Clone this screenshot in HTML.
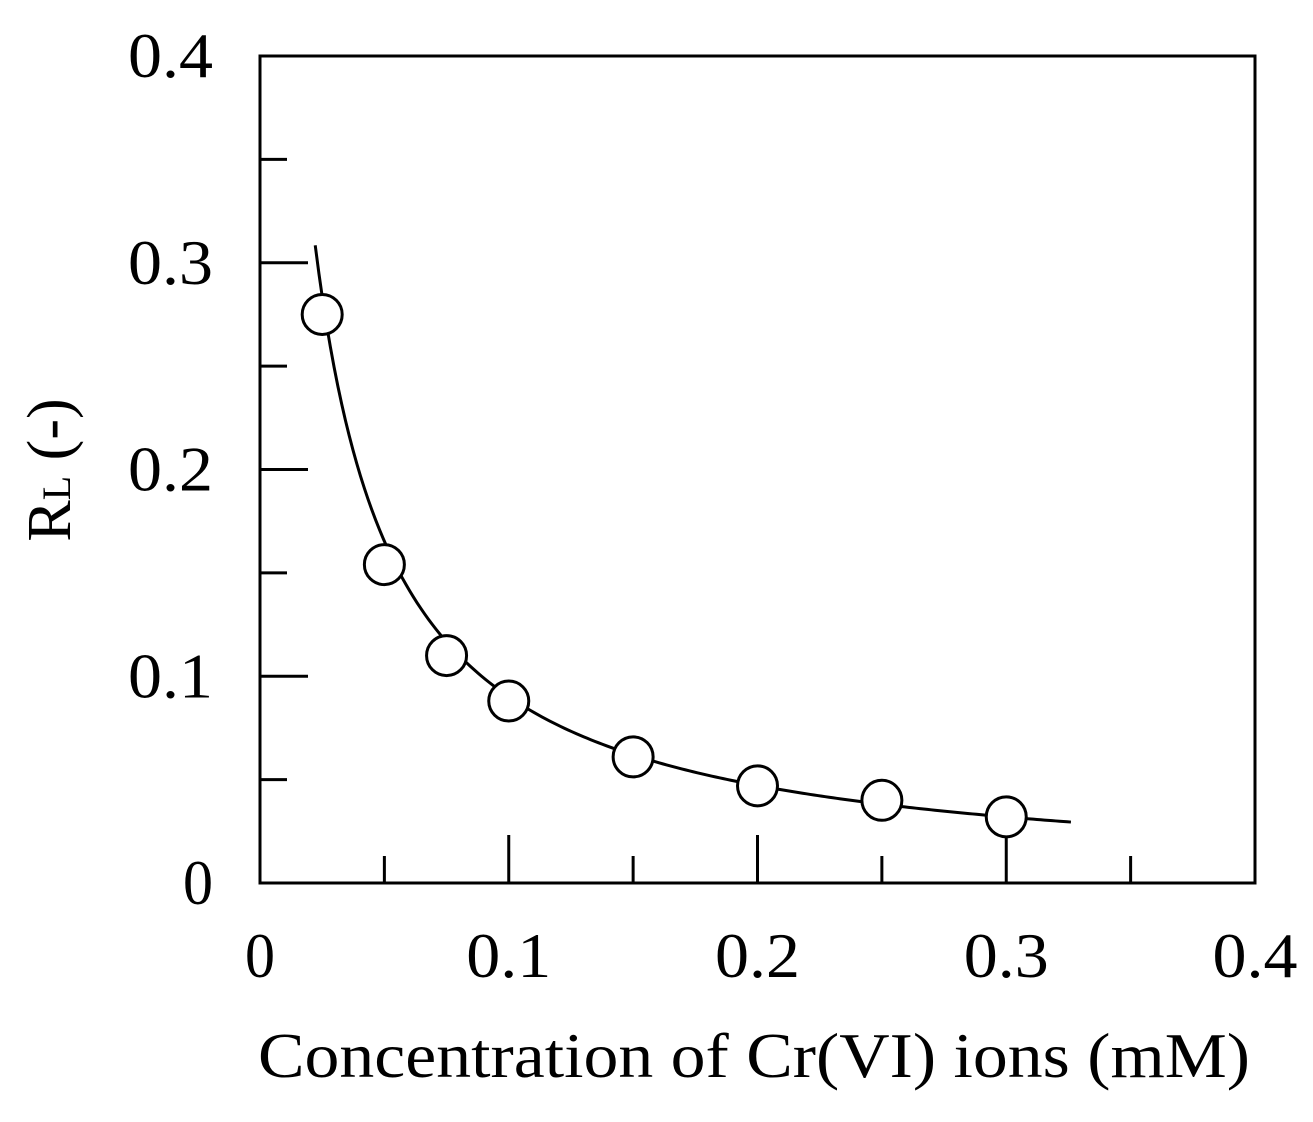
<!DOCTYPE html>
<html><head><meta charset="utf-8"><style>
html,body{margin:0;padding:0;background:#fff;}
svg text{font-family:"Liberation Serif",serif;fill:#000;}
</style></head><body>
<svg id="chart" width="1313" height="1117" viewBox="0 0 1313 1117" xmlns="http://www.w3.org/2000/svg"></svg>
<script>
const xTickLabels=["0","0.1","0.2","0.3","0.4"];
const xTickValues=[0,0.1,0.2,0.3,0.4];
const yTickLabels=["0","0.1","0.2","0.3","0.4"];
const yTickValues=[0,0.1,0.2,0.3,0.4];
const concentrations=[0.025,0.05,0.075,0.1,0.15,0.2,0.25,0.3];
const rlValues=[0.275,0.154,0.110,0.088,0.061,0.047,0.040,0.032];
const fitK=[101];
const fitRange=[0.0222,0.326];

const L=260,R=1255,T=56,B=883;
const sx=v=>L+(v/0.4)*(R-L);
const sy=v=>B-(v/0.4)*(B-T);
const svg=document.getElementById('chart');
const NS='http://www.w3.org/2000/svg';
function mk(tag,attrs,parent){const e=document.createElementNS(NS,tag);for(const k in attrs)e.setAttribute(k,attrs[k]);(parent||svg).appendChild(e);return e;}

const frame=mk('rect',{x:L,y:T,width:R-L,height:B-T,fill:'none',stroke:'#000','stroke-width':3});



for(let i=1;i<8;i++){
  const v=i*0.05, major=i%2===0;
  const tx=mk('line',{x1:sx(v),x2:sx(v),y1:B,y2:B-(major?48:27),stroke:'#000','stroke-width':3});
  
  
  const ty=mk('line',{x1:L,x2:L+(major?48:27),y1:sy(v),y2:sy(v),stroke:'#000','stroke-width':3});
  
  
}
xTickValues.forEach((v,i)=>{
  const s=xTickLabels[i];
  const w=s.length>1?85:30;
  const t=mk('text',{x:sx(v),y:977,'font-size':64,'text-anchor':'middle',textLength:w,lengthAdjust:'spacingAndGlyphs'});
  t.textContent=s;
  
  
});
yTickValues.forEach((v,i)=>{
  const s=yTickLabels[i];
  const w=s.length>1?85:30;
  const t=mk('text',{x:213,y:sy(v)+21,'font-size':64,'text-anchor':'end',textLength:w,lengthAdjust:'spacingAndGlyphs'});
  t.textContent=s;
  
  
});
const xt=mk('text',{x:754,y:1077,'font-size':64,'text-anchor':'middle',textLength:992,lengthAdjust:'spacingAndGlyphs'});
xt.textContent='Concentration of Cr(VI) ions (mM)';


const yt=mk('text',{x:0,y:0,'font-size':62,'text-anchor':'middle',transform:'translate(70,470) rotate(-90)'});
yt.innerHTML='R<tspan font-size="40">L</tspan> (-)';



let d='';
const n=200;
for(let i=0;i<=n;i++){
  const c=fitRange[0]+(fitRange[1]-fitRange[0])*i/n;
  const r=1/(1+fitK[0]*c);
  d+=(i?'L':'M')+sx(c).toFixed(2)+' '+sy(r).toFixed(2);
}
const curve=mk('path',{d:d,fill:'none',stroke:'#000','stroke-width':3});



concentrations.forEach((c,i)=>{
  const p=mk('circle',{cx:sx(c),cy:sy(rlValues[i]),r:20,fill:'#fff',stroke:'#000','stroke-width':3});
  
  
});
</script>
</body></html>
